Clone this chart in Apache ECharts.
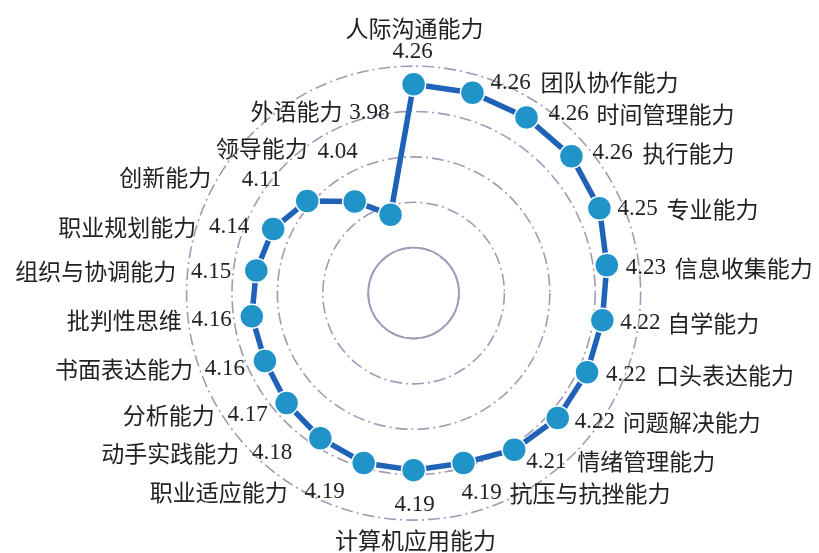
<!DOCTYPE html>
<html><head><meta charset="utf-8">
<script src="https://cdn.jsdelivr.net/npm/echarts@6/dist/echarts.min.js"></script>
<style>html,body{margin:0;padding:0;background:#fff}#c{width:819px;height:553px}</style>
</head><body><div id="c"></div>
<script>
const abilities = ['人际沟通能力','团队协作能力','时间管理能力','执行能力','专业能力','信息收集能力','自学能力','口头表达能力','问题解决能力','情绪管理能力','抗压与抗挫能力','计算机应用能力','职业适应能力','动手实践能力','分析能力','书面表达能力','批判性思维','组织与协调能力','职业规划能力','创新能力','领导能力','外语能力'];
const scores = [4.26,4.26,4.26,4.26,4.25,4.23,4.22,4.22,4.22,4.21,4.19,4.19,4.19,4.18,4.17,4.16,4.16,4.15,4.14,4.11,4.04,3.98];
const scaleMin = 3.8, scaleMax = 4.3, scaleStep = 0.1;

// label layout relative to each point: [align, dx, dy]
const valuePlace = [
  ['center',-1,-32],['left',18,-10],['left',22,-3],['left',21,-3],['left',18,1],['left',19,3],
  ['left',18,3],['left',19,3],['left',17,4],['left',12,12],['left',-2,30],['center',1,35],
  ['right',-19,29],['right',-28,15],['right',-19,12],['right',-20,8],['right',-20,4],
  ['right',-25,1],['right',-24,-2],['right',-26,-21],['right',3,-49],['right',-1,-102]
];
const namePlace = [
  ['center',1,-56],['left',68,-10],['left',70,-3],['left',71,-3],['left',67,1],['left',68,3],
  ['left',65,3],['left',69,3],['left',65,4],['left',63,12],['left',46,30],['center',2,70],
  ['right',-76,29],['right',-81,15],['right',-72,12],['right',-72,8],['right',-70,4],
  ['right',-80,1],['right',-77,-2],['right',-96,-24],['right',-47,-53],['right',-48,-103]
];

const n = abilities.length;
const ringColor = '#9c9cb6';
const valueFont = {fontFamily:'Liberation Serif', fontSize:23, color:'#222'};
const nameFont = {fontFamily:'Noto Sans CJK SC', fontSize:23, color:'#222'};

const lineData = scores.map((v,i)=>({
  value:[v,i],
  label:Object.assign({show:true, position:'inside', align:valuePlace[i][0], verticalAlign:'middle',
    offset:[valuePlace[i][1], valuePlace[i][2]], formatter: v.toFixed(2)}, valueFont)
}));
lineData.push({value:[scores[0], n], symbol:'none', label:{show:false}});

const nameData = scores.map((v,i)=>({
  value:[v,i],
  label:Object.assign({show:true, position:'inside', align:namePlace[i][0], verticalAlign:'middle',
    offset:[namePlace[i][1], namePlace[i][2]], formatter: abilities[i]}, nameFont)
}));

const hiddenAngle = {axisLine:{show:false}, axisTick:{show:false}, axisLabel:{show:false}, splitLine:{show:false}};

const chart = echarts.init(document.getElementById('c'), null, {renderer:'canvas'});
chart.setOption({
  animation:false,
  backgroundColor:'#fff',
  polar:[
    {center:['50.5%','53%'], radius:227},
    {center:['50.5%','53%'], radius:227/5}
  ],
  angleAxis:[
    Object.assign({polarIndex:0, type:'value', min:0, max:n, startAngle:90, clockwise:true}, hiddenAngle),
    Object.assign({polarIndex:1, type:'value', min:0, max:n, startAngle:90, clockwise:true}, hiddenAngle)
  ],
  radiusAxis:[
    {polarIndex:0, type:'value', min:scaleMin, max:scaleMax, interval:scaleStep,
     axisLine:{show:false}, axisTick:{show:false}, axisLabel:{show:false},
     splitLine:{show:true, lineStyle:{color:ringColor, width:1.6, type:[12,4,2,4]}}},
    {polarIndex:1, type:'value', min:0, max:1, interval:1,
     axisLine:{show:false}, axisTick:{show:false}, axisLabel:{show:false},
     splitLine:{show:true, lineStyle:{color:ringColor, width:1.8, type:'solid'}}}
  ],
  series:[
    {type:'line', coordinateSystem:'polar', polarIndex:0, data:lineData,
     symbol:'circle', symbolSize:24, z:3,
     lineStyle:{color:'#1f62b7', width:5.5},
     itemStyle:{color:'#2094c9', borderColor:'#fff', borderWidth:1.5},
     emphasis:{disabled:true}},
    {type:'line', coordinateSystem:'polar', polarIndex:0, data:nameData,
     symbol:'circle', symbolSize:2, z:4,
     lineStyle:{width:0, opacity:0},
     itemStyle:{color:'rgba(0,0,0,0)', borderWidth:0},
     emphasis:{disabled:true}}
  ]
});
</script>
</body></html>
